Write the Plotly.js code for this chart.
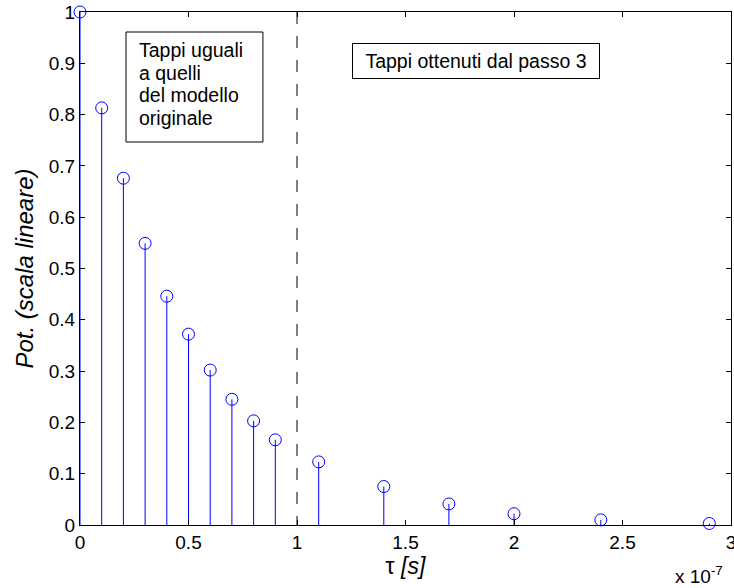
<!DOCTYPE html>
<html>
<head>
<meta charset="utf-8">
<script src="https://cdn.plot.ly/plotly-3.0.1.min.js"></script>
<style>
  html, body { margin: 0; padding: 0; background: #fff; }
  #chart { width: 734px; height: 588px; }
</style>
</head>
<body>
<div id="chart"></div>
<script>
// Delay of each tap, in units of 1e-7 s
const tauE7 = [0, 0.1, 0.2, 0.3, 0.4, 0.5, 0.6, 0.7, 0.8, 0.9, 1.1, 1.4, 1.7, 2.0, 2.4, 2.9];
// Power of each tap (linear scale)
const power = [1.0, 0.813, 0.676, 0.549, 0.446, 0.372, 0.302, 0.245, 0.203, 0.166, 0.123, 0.075, 0.041, 0.022, 0.010, 0.003];
// Boundary between the two groups of taps
const splitTau = [1.0];
const xTicks = [0, 0.5, 1, 1.5, 2, 2.5, 3];
const yTicks = [0, 0.1, 0.2, 0.3, 0.4, 0.5, 0.6, 0.7, 0.8, 0.9, 1];
const boxLeftLines = ["Tappi uguali", "a quelli", "del modello", "originale"];
const boxRightText = "Tappi ottenuti dal passo 3";

const FONT = "Liberation Sans, Arial, Helvetica, sans-serif";
const BLUE = "#0000ff";

// Stems: vertical segments from the baseline to each value
const stemX = [], stemY = [];
tauE7.forEach((t, i) => { stemX.push(t, t, null); stemY.push(0, power[i], null); });

const traces = [
  {
    x: [splitTau[0], splitTau[0]], y: [1, 0], mode: "lines", type: "scatter",
    line: { color: "#000", width: 1, dash: "12px,12px" }, hoverinfo: "skip", showlegend: false
  },
  {
    x: stemX, y: stemY, mode: "lines", type: "scatter",
    line: { color: BLUE, width: 1 }, hoverinfo: "skip", showlegend: false
  },
  {
    x: tauE7, y: power, mode: "markers", type: "scatter",
    marker: { symbol: "circle-open", size: 12, color: BLUE, line: { color: BLUE, width: 1 } },
    cliponaxis: false, showlegend: false
  }
];

const axisCommon = {
  showgrid: false, zeroline: false, showline: true, linecolor: "#000", linewidth: 1,
  mirror: "ticks", ticks: "inside", ticklen: 5, tickcolor: "#000",
  ticklabeloverflow: "allow",
  tickfont: { family: FONT, size: 19, color: "#000" }
};

// Left text box: framed rectangle with one text row per line
const leftBox = { x0: 0.212, x1: 0.843, y0: 0.7466, y1: 0.961 };
const leftTextX = 0.2627, leftFirstY = 0.926, leftLineStep = 0.0442;

const annotations = [
  {
    xref: "paper", yref: "paper", x: 0.991, y: -0.097, xanchor: "right", yanchor: "middle",
    text: "x 10<sup>-7</sup>", showarrow: false,
    font: { family: FONT, size: 19, color: "#000" }
  },
  {
    x: 1.253, y: 0.9396, xref: "x", yref: "y", xanchor: "left", yanchor: "top",
    text: boxRightText, align: "center", showarrow: false,
    bordercolor: "#000", borderwidth: 1, borderpad: 4, bgcolor: "#fff",
    width: 238, height: 26,
    font: { family: FONT, size: 19.5, color: "#000" }
  }
];
boxLeftLines.forEach((line, i) => {
  annotations.push({
    x: leftTextX, y: leftFirstY - i * leftLineStep, xref: "x", yref: "y",
    xanchor: "left", yanchor: "middle", text: line, showarrow: false,
    font: { family: FONT, size: 19.5, color: "#000" }
  });
});

const layout = {
  width: 734, height: 588,
  margin: { l: 80, r: 3, t: 12, b: 63 },
  paper_bgcolor: "#fff", plot_bgcolor: "#fff",
  xaxis: Object.assign({}, axisCommon, {
    range: [0, 3], tickvals: xTicks, ticktext: xTicks.map(String),
    title: { text: "τ <i>[s]</i>", font: { family: FONT, size: 23, color: "#000" }, standoff: 2 }
  }),
  yaxis: Object.assign({}, axisCommon, {
    range: [0, 1], tickvals: yTicks, ticktext: yTicks.map(String),
    title: { text: "<i>Pot. (scala lineare)</i>", font: { family: FONT, size: 24, color: "#000" }, standoff: 8 }
  }),
  shapes: [
    {
      type: "rect", xref: "x", yref: "y",
      x0: leftBox.x0, x1: leftBox.x1, y0: leftBox.y0, y1: leftBox.y1,
      line: { color: "#000", width: 1 }, fillcolor: "#fff", layer: "above"
    }
  ],
  annotations: annotations
};

Plotly.newPlot("chart", traces, layout, { displayModeBar: false, staticPlot: true });
</script>
</body>
</html>
